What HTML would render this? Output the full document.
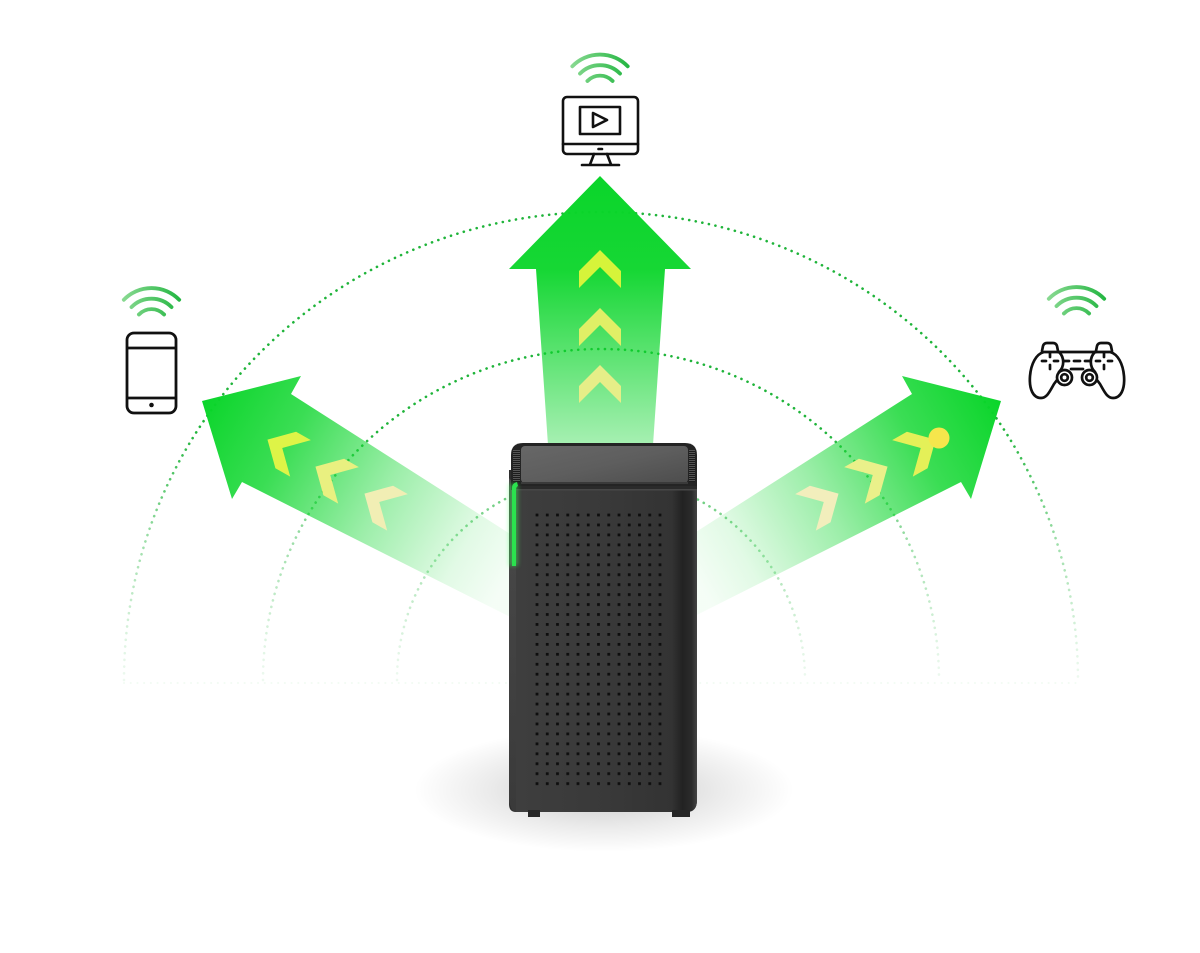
<!DOCTYPE html>
<html>
<head>
<meta charset="utf-8">
<style>
  html,body{margin:0;padding:0;background:#fff;}
  svg{display:block;}
</style>
</head>
<body>
<svg width="1200" height="953" viewBox="0 0 1200 953" xmlns="http://www.w3.org/2000/svg">
  <defs>
    <linearGradient id="arcG" gradientUnits="userSpaceOnUse" x1="0" y1="200" x2="0" y2="690">
      <stop offset="0" stop-color="#1fb43a" stop-opacity="1"/>
      <stop offset="0.47" stop-color="#1fb43a" stop-opacity="1"/>
      <stop offset="0.69" stop-color="#1fb43a" stop-opacity="0.45"/>
      <stop offset="0.9" stop-color="#1fb43a" stop-opacity="0.15"/>
      <stop offset="1" stop-color="#1fb43a" stop-opacity="0.06"/>
    </linearGradient>
    <linearGradient id="topA" gradientUnits="userSpaceOnUse" x1="0" y1="176" x2="0" y2="445">
      <stop offset="0" stop-color="#0ad52a" stop-opacity="1"/>
      <stop offset="0.35" stop-color="#0ad52a" stop-opacity="0.95"/>
      <stop offset="1" stop-color="#0ad52a" stop-opacity="0.36"/>
    </linearGradient>
    <linearGradient id="leftA" gradientUnits="userSpaceOnUse" x1="202" y1="401" x2="510" y2="575">
      <stop offset="0" stop-color="#0ad52a" stop-opacity="1"/>
      <stop offset="0.27" stop-color="#0ad52a" stop-opacity="0.8"/>
      <stop offset="0.58" stop-color="#0ad52a" stop-opacity="0.4"/>
      <stop offset="0.85" stop-color="#0ad52a" stop-opacity="0.12"/>
      <stop offset="1" stop-color="#0ad52a" stop-opacity="0.04"/>
    </linearGradient>
    <linearGradient id="rightA" gradientUnits="userSpaceOnUse" x1="1001" y1="401" x2="693" y2="575">
      <stop offset="0" stop-color="#0ad52a" stop-opacity="1"/>
      <stop offset="0.27" stop-color="#0ad52a" stop-opacity="0.8"/>
      <stop offset="0.58" stop-color="#0ad52a" stop-opacity="0.4"/>
      <stop offset="0.85" stop-color="#0ad52a" stop-opacity="0.12"/>
      <stop offset="1" stop-color="#0ad52a" stop-opacity="0.04"/>
    </linearGradient>
    <radialGradient id="shadow" cx="0.5" cy="0.5" r="0.5">
      <stop offset="0" stop-color="#000" stop-opacity="0.22"/>
      <stop offset="0.6" stop-color="#000" stop-opacity="0.08"/>
      <stop offset="1" stop-color="#000" stop-opacity="0"/>
    </radialGradient>
    <linearGradient id="bodyG" x1="0" y1="0" x2="1" y2="0">
      <stop offset="0" stop-color="#3e3e3e"/>
      <stop offset="0.5" stop-color="#393939"/>
      <stop offset="0.86" stop-color="#333"/>
      <stop offset="0.92" stop-color="#222"/>
      <stop offset="0.97" stop-color="#2b2b2b"/>
      <stop offset="1" stop-color="#444"/>
    </linearGradient>
    <linearGradient id="topG" x1="0" y1="0" x2="1" y2="1">
      <stop offset="0" stop-color="#676767"/>
      <stop offset="0.5" stop-color="#5e5e5e"/>
      <stop offset="1" stop-color="#4d4d4d"/>
    </linearGradient>
    <linearGradient id="sideG" x1="0" y1="0" x2="0" y2="1">
      <stop offset="0" stop-color="#4a4a4a"/>
      <stop offset="1" stop-color="#3a3a3a"/>
    </linearGradient>
    <pattern id="holes" x="535.6" y="513.6" width="10.25" height="9.95" patternUnits="userSpaceOnUse">
      <rect width="2.8" height="2.8" fill="#0e0e0e"/>
    </pattern>
    <pattern id="vent" x="0" y="0" width="8" height="2" patternUnits="userSpaceOnUse">
      <rect width="8" height="1" fill="#555"/>
      <rect y="1" width="8" height="1" fill="#1c1c1c"/>
    </pattern>
    <linearGradient id="wifiG1" gradientUnits="userSpaceOnUse" x1="561" y1="0" x2="639" y2="0">
      <stop offset="0" stop-color="#9adf9f"/>
      <stop offset="1" stop-color="#12b034"/>
    </linearGradient>
    <linearGradient id="wifiG2" gradientUnits="userSpaceOnUse" x1="113" y1="0" x2="190" y2="0">
      <stop offset="0" stop-color="#9adf9f"/>
      <stop offset="1" stop-color="#12b034"/>
    </linearGradient>
    <linearGradient id="wifiG3" gradientUnits="userSpaceOnUse" x1="1038" y1="0" x2="1115" y2="0">
      <stop offset="0" stop-color="#9adf9f"/>
      <stop offset="1" stop-color="#12b034"/>
    </linearGradient>
    <filter id="blur2" x="-50%" y="-50%" width="200%" height="200%">
      <feGaussianBlur stdDeviation="2"/>
    </filter>
    <path id="chev" d="M0,-19 L21,2 L21,19 L0,-2 L-21,19 L-21,2 Z"/>
  </defs>

  <rect width="1200" height="953" fill="#fff"/>

  <!-- dotted arcs -->
  <g fill="none" stroke="url(#arcG)" stroke-width="2.6" stroke-linecap="round" stroke-dasharray="0.1 6.6">
    <path d="M124,680 A477,468 0 0 1 1078,680"/>
    <path d="M263,680 A338,331 0 0 1 939,680"/>
    <path d="M397,680 A204,205 0 0 1 805,680"/>
  </g>
  <path d="M124,683 L1078,683" stroke="#1fb43a" stroke-opacity="0.06" stroke-width="2" stroke-linecap="round" stroke-dasharray="0.1 6.6"/>

  <!-- shadow -->
  <ellipse cx="604" cy="790" rx="190" ry="62" fill="url(#shadow)"/>

  <!-- arrows -->
  <polygon points="600,176 691,269 665,269 653,445 548,445 536,269 509,269" fill="url(#topA)"/>
  <polygon points="202,401 301,376 291,394 540,553 540,632 242,482 232,499" fill="url(#leftA)"/>
  <polygon points="1001,401 902,376 912,394 663,553 663,632 961,482 971,499" fill="url(#rightA)"/>

  <!-- chevrons top -->
  <use href="#chev" transform="translate(600,269)" fill="#d6f43a"/>
  <use href="#chev" transform="translate(600,327)" fill="#e0ef66"/>
  <use href="#chev" transform="translate(600,384)" fill="#e6ee88"/>
  <!-- chevrons left -->
  <use href="#chev" transform="translate(284,449) rotate(-60.5)" fill="#def447"/>
  <use href="#chev" transform="translate(332,476) rotate(-60.5)" fill="#e9f080"/>
  <use href="#chev" transform="translate(381,503) rotate(-60.5)" fill="#f1eeb4"/>
  <!-- chevrons right -->
  <use href="#chev" transform="translate(919,449) rotate(60.5)" fill="#e4f058"/>
  <use href="#chev" transform="translate(871,476) rotate(60.5)" fill="#eaf08a"/>
  <use href="#chev" transform="translate(822,503) rotate(60.5)" fill="#f2eebc"/>
  <circle cx="939" cy="438" r="10.5" fill="#f6e64c"/>

  <!-- router -->
  <g>
    <path d="M509,470 L509,804 Q509,812 516,812 L687,812 Q697,812 697,800 L697,470 Z" fill="#2e2e2e"/>
    <path d="M516,486 L697,486 L697,800 Q697,812 686,812 L516,812 Z" fill="url(#bodyG)"/>
    <path d="M509,478 L516,486 L516,812 L512,810 L509,802 Z" fill="url(#sideG)"/>
    <!-- top cap -->
    <path d="M511,490 L511,455 Q511,443 523,443 L685,443 Q697,443 697,455 L697,490 Z" fill="#242424"/>
    <rect x="513" y="450" width="7" height="32" fill="url(#vent)"/>
    <rect x="689" y="450" width="6" height="32" fill="url(#vent)"/>
    <rect x="521" y="446" width="167" height="37" rx="4" fill="url(#topG)"/>
    <rect x="521" y="482" width="167" height="2" fill="#3a3a3a"/>
    <rect x="513" y="486" width="184" height="4" fill="#2a2a2a"/>
    <rect x="516" y="489" width="181" height="1.5" fill="#474747"/>
    <!-- LED -->
    <rect x="509" y="484" width="9" height="82" fill="#3cff5a" opacity="0.45" filter="url(#blur2)"/>
    <path d="M512,566 L512,488 Q512,483 517,482 L518,486 Q516,487 516,490 L516,566 Z" fill="#2be24e"/>
    <!-- holes -->
    <rect x="535" y="513" width="130" height="276" fill="url(#holes)"/>
    <!-- feet -->
    <rect x="528" y="810" width="12" height="7" fill="#262626"/>
    <rect x="672" y="810" width="18" height="7" fill="#262626"/>
  </g>

  <!-- monitor icon -->
  <g fill="none" stroke-linecap="round" stroke-width="3.8" stroke="url(#wifiG1)">
    <path d="M572.3,66.3 A38.5,38.5 0 0 1 627.7,66.3"/>
    <path d="M580,73.6 A28,28 0 0 1 620,73.6"/>
    <path d="M587.4,81 A17.5,17.5 0 0 1 612.6,81"/>
  </g>
  <g fill="none" stroke="#111" stroke-width="2.6" stroke-linejoin="round" stroke-linecap="round">
    <rect x="563" y="97" width="75" height="57" rx="4"/>
    <line x1="563" y1="144" x2="638" y2="144"/>
    <rect x="580" y="107" width="40" height="27"/>
    <polygon points="593,113 593,127 607,120"/>
    <line x1="598.5" y1="149" x2="602" y2="149"/>
    <line x1="594" y1="154" x2="590" y2="164.5"/>
    <line x1="607" y1="154" x2="611" y2="164.5"/>
    <line x1="582" y1="165" x2="619" y2="165"/>
  </g>

  <!-- phone icon -->
  <g fill="none" stroke-linecap="round" stroke-width="3.8" stroke="url(#wifiG2)">
    <path d="M123.8,299.8 A38.5,38.5 0 0 1 179.2,299.8"/>
    <path d="M131.5,307.1 A28,28 0 0 1 171.5,307.1"/>
    <path d="M138.9,314.5 A17.5,17.5 0 0 1 164.1,314.5"/>
  </g>
  <g fill="none" stroke="#111" stroke-width="2.8">
    <rect x="127" y="333" width="49" height="80" rx="7"/>
    <line x1="127" y1="348" x2="176" y2="348"/>
    <line x1="127" y1="398" x2="176" y2="398"/>
  </g>
  <circle cx="151.5" cy="405" r="2.3" fill="#111"/>

  <!-- gamepad icon -->
  <g fill="none" stroke-linecap="round" stroke-width="3.8" stroke="url(#wifiG3)">
    <path d="M1048.8,298.8 A38.5,38.5 0 0 1 1104.2,298.8"/>
    <path d="M1056.5,306.1 A28,28 0 0 1 1096.5,306.1"/>
    <path d="M1063.9,313.5 A17.5,17.5 0 0 1 1089.1,313.5"/>
  </g>
  <g fill="none" stroke="#111" stroke-width="2.7" stroke-linejoin="round" stroke-linecap="round">
    <!-- bumpers -->
    <path d="M1042,351 L1043,346 Q1044,343 1047,343 L1053,343 Q1056,343 1057,346 L1058,351"/>
    <path d="M1096,351 L1097,346 Q1098,343 1101,343 L1107,343 Q1110,343 1111,346 L1112,351"/>
    <!-- top bridge -->
    <path d="M1058,352 L1096,352"/>
    <!-- left grip -->
    <path d="M1058,352 L1044,352 C1036,354 1031,364 1030,376 C1029,389 1033,398 1041,398 C1047,398 1050,391 1054,384 L1057,380"/>
    <!-- right grip -->
    <path d="M1096,352 L1110,352 C1118,354 1123,364 1124,376 C1125,389 1121,398 1113,398 C1107,398 1104,391 1100,384 L1097,380"/>
    <!-- lobe inner arcs -->
    <path d="M1059,352 A14,14 0 0 1 1059,372"/>
    <path d="M1095,352 A14,14 0 0 0 1095,372"/>
    <!-- bottom bridge -->
    <path d="M1071,369 L1083,369"/>
    <circle cx="1064.5" cy="377.5" r="7.5" fill="#fff"/>
    <circle cx="1064.5" cy="377.5" r="3.3"/>
    <circle cx="1089.5" cy="377.5" r="7.5" fill="#fff"/>
    <circle cx="1089.5" cy="377.5" r="3.3"/>
    <!-- dpad -->
    <line x1="1042" y1="361" x2="1046" y2="361"/>
    <line x1="1054" y1="361" x2="1058" y2="361"/>
    <line x1="1050" y1="353" x2="1050" y2="357"/>
    <line x1="1050" y1="365" x2="1050" y2="369"/>
    <!-- buttons -->
    <line x1="1096" y1="361" x2="1100" y2="361"/>
    <line x1="1108" y1="361" x2="1112" y2="361"/>
    <line x1="1104" y1="353" x2="1104" y2="357"/>
    <line x1="1104" y1="365" x2="1104" y2="369"/>
    <!-- middle dashes -->
    <line x1="1064" y1="361" x2="1069" y2="361"/>
    <line x1="1074" y1="361" x2="1080" y2="361"/>
    <line x1="1085" y1="361" x2="1090" y2="361"/>
  </g>
</svg>
</body>
</html>
